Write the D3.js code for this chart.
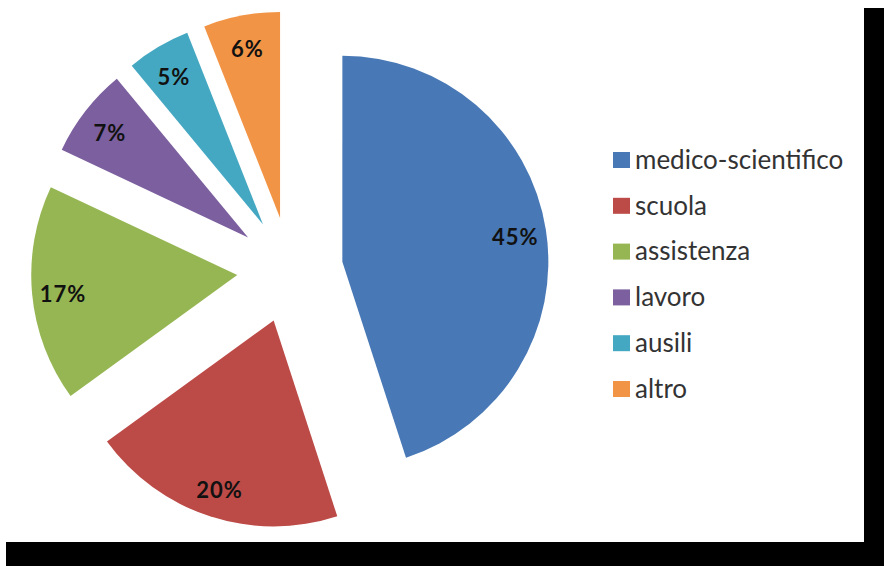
<!DOCTYPE html>
<html>
<head>
<meta charset="utf-8">
<script src="https://cdnjs.cloudflare.com/ajax/libs/d3/7.8.5/d3.min.js"></script>
<style>
  html, body { margin: 0; padding: 0; background: #fff; }
  svg { display: block; }
</style>
</head>
<body>
<div id="chart"></div>
<script>
// Data
const categories = ['medico-scientifico', 'scuola', 'assistenza', 'lavoro', 'ausili', 'altro'];
const shares = [45, 20, 17, 7, 5, 6];
const colors = ['#4878B5', '#BC4A47', '#96B653', '#7B5F9E', '#45A8C2', '#F29445'];

const width = 884;
const height = 566;

// Layout
const center = [290, 270];
const radius = 206;
const explode = 53;
const labelRadius = 175;

const svg = d3.select('#chart').append('svg')
  .attr('width', width)
  .attr('height', height);

// Black drop shadow along right and bottom
svg.append('rect')
  .attr('x', 864).attr('y', 8)
  .attr('width', width - 864).attr('height', height - 8)
  .attr('fill', '#000');
svg.append('rect')
  .attr('x', 6).attr('y', 542)
  .attr('width', width - 6).attr('height', height - 542)
  .attr('fill', '#000');

const pie = d3.pie().sort(null).value((d) => d);
const arcs = pie(shares);

const arc = d3.arc().innerRadius(0).outerRadius(radius);

// Offset of each slice along its bisector
const offset = (d) => {
  const mid = (d.startAngle + d.endAngle) / 2;
  return [explode * Math.sin(mid), -explode * Math.cos(mid)];
};

const g = svg.append('g')
  .attr('transform', `translate(${center[0]},${center[1]})`);

const slices = g.selectAll('g.slice')
  .data(arcs)
  .join('g')
    .attr('class', 'slice')
    .attr('transform', (d) => `translate(${offset(d)})`);

slices.append('path')
  .attr('d', arc)
  .attr('fill', (d, i) => colors[i]);

const labelArc = d3.arc().innerRadius(labelRadius).outerRadius(labelRadius);

slices.append('text')
  .attr('transform', (d) => `translate(${labelArc.centroid(d)})`)
  .attr('text-anchor', 'middle')
  .attr('dy', '0.5em')
  .attr('font-family', 'Lato, "Open Sans", sans-serif')
  .attr('font-weight', 'bold')
  .attr('font-size', 22)
  .attr('letter-spacing', 1)
  .attr('fill', '#111')
  .text((d) => `${d.data}%`);

// Legend
const legend = svg.append('g')
  .attr('transform', 'translate(613,159)');

const rows = legend.selectAll('g')
  .data(categories)
  .join('g')
    .attr('transform', (d, i) => `translate(0,${i * 45.8})`);

rows.append('rect')
  .attr('x', 0).attr('y', -7)
  .attr('width', 17).attr('height', 16)
  .attr('fill', (d, i) => colors[i]);

rows.append('text')
  .attr('x', 22)
  .attr('dy', '0.38em')
  .attr('font-family', 'Lato, "Open Sans", sans-serif')
  .attr('font-size', 26)
  .attr('fill', '#333')
  .text((d) => d);
</script>
</body>
</html>
